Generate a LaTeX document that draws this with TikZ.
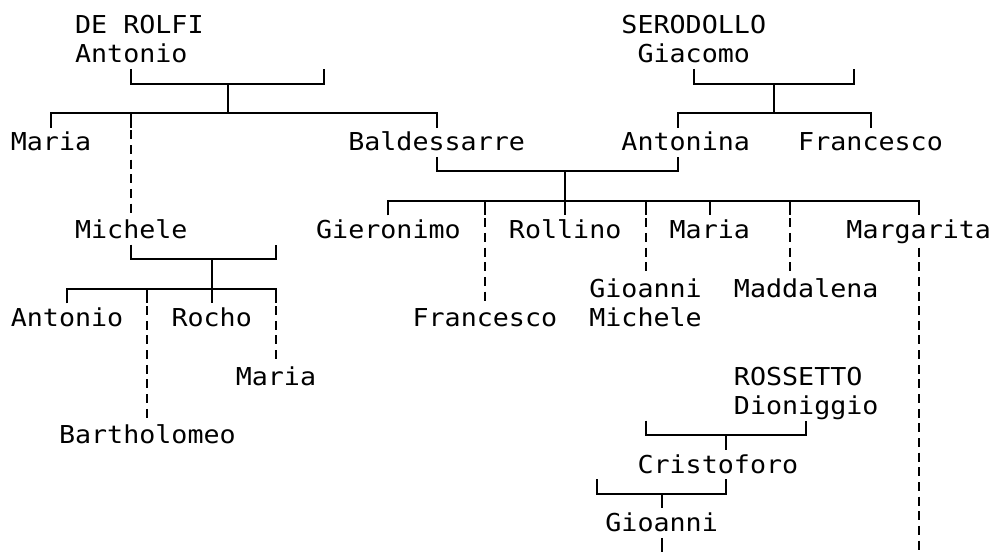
\documentclass[tikz,border=0pt]{standalone}
\usepackage{fontspec}
\setmonofont[FakeStretch=1.082]{DejaVu Sans Mono}
\newcommand\gp[3]{\coordinate (#1) at ({cx(#2)},{ry(#3)});}
\begin{document}
\begin{tikzpicture}[x=0.75pt,y=-0.75pt,
  declare function={cx(\c)=18.8+16.07*\c; ry(\r)=25+29.3*\r; tx(\c)=10.8+16.07*\c; by(\r)=33.5+29.3*\r;},
  person/.style={anchor=base west, inner sep=0pt, outer sep=0pt, font=\ttfamily\fontsize{18.5}{22}\selectfont},
  link/.style={line width=1.5pt},
  dlink/.style={line width=1.5pt, dash pattern=on 6.75pt off 4.24pt, dash phase=8.87pt}]
\fill[white] (0,0) rectangle (992,552);
\useasboundingbox (0,0) rectangle (992,552);
% ---- names ----
\node[person] (derolfi) at ({tx(4)},{by(0)}) {DE ROLFI};
\node[person] (antonioA) at ({tx(4)},{by(1)}) {Antonio};
\node[person] (serodollo) at ({tx(38)},{by(0)}) {SERODOLLO};
\node[person] (giacomo) at ({tx(39)},{by(1)}) {Giacomo};
\node[person] (mariaA) at ({tx(0)},{by(4)}) {Maria};
\node[person] (baldessarre) at ({tx(21)},{by(4)}) {Baldessarre};
\node[person] (antonina) at ({tx(38)},{by(4)}) {Antonina};
\node[person] (francescoA) at ({tx(49)},{by(4)}) {Francesco};
\node[person] (micheleA) at ({tx(4)},{by(7)}) {Michele};
\node[person] (gieronimo) at ({tx(19)},{by(7)}) {Gieronimo};
\node[person] (rollino) at ({tx(31)},{by(7)}) {Rollino};
\node[person] (mariaB) at ({tx(41)},{by(7)}) {Maria};
\node[person] (margarita) at ({tx(52)},{by(7)}) {Margarita};
\node[person] (gioanniA) at ({tx(36)},{by(9)}) {Gioanni};
\node[person] (maddalena) at ({tx(45)},{by(9)}) {Maddalena};
\node[person] (antonioB) at ({tx(0)},{by(10)}) {Antonio};
\node[person] (rocho) at ({tx(10)},{by(10)}) {Rocho};
\node[person] (francescoB) at ({tx(25)},{by(10)}) {Francesco};
\node[person] (micheleB) at ({tx(36)},{by(10)}) {Michele};
\node[person] (mariaC) at ({tx(14)},{by(12)}) {Maria};
\node[person] (rossetto) at ({tx(45)},{by(12)}) {ROSSETTO};
\node[person] (dioniggio) at ({tx(45)},{by(13)}) {Dioniggio};
\node[person] (bartholomeo) at ({tx(3)},{by(14)}) {Bartholomeo};
\node[person] (cristoforo) at ({tx(39)},{by(15)}) {Cristoforo};
\node[person] (gioanniB) at ({tx(37)},{by(17)}) {Gioanni};
% ---- DE ROLFI family ----
\gp{a1}{7}{1.5}\gp{a2}{7}{2}\gp{a3}{19}{2}\gp{a4}{19}{1.5}\gp{aj}{13}{2}\gp{ak}{13}{3}
\draw[link] (a1) -- (a2) -- (a3) -- (a4);
\draw[link] (aj) -- (ak);
\gp{b1}{2}{3.5}\gp{b2}{2}{3}\gp{b3}{26}{3}\gp{b4}{26}{3.5}
\draw[link] (b1) -- (b2) -- (b3) -- (b4);
\gp{c1}{7}{3}\gp{c2}{7}{3.5}\gp{c3}{7}{6.5}
\draw[link] (c1) -- (c2);
\draw[dlink] (c2) -- (c3);
% ---- SERODOLLO family ----
\gp{d1}{42}{1.5}\gp{d2}{42}{2}\gp{d3}{52}{2}\gp{d4}{52}{1.5}\gp{dj}{47}{2}\gp{dk}{47}{3}
\draw[link] (d1) -- (d2) -- (d3) -- (d4);
\draw[link] (dj) -- (dk);
\gp{e1}{41}{3.5}\gp{e2}{41}{3}\gp{e3}{53}{3}\gp{e4}{53}{3.5}
\draw[link] (e1) -- (e2) -- (e3) -- (e4);
% ---- Baldessarre + Antonina ----
\gp{f1}{26}{4.5}\gp{f2}{26}{5}\gp{f3}{41}{5}\gp{f4}{41}{4.5}\gp{fj}{34}{5}\gp{fk}{34}{6.5}
\draw[link] (f1) -- (f2) -- (f3) -- (f4);
\draw[link] (fj) -- (fk);
\gp{g1}{23}{6.5}\gp{g2}{23}{6}\gp{g3}{56}{6}\gp{g4}{56}{6.5}
\draw[link] (g1) -- (g2) -- (g3) -- (g4);
\gp{h1}{29}{6}\gp{h2}{29}{6.5}\gp{h3}{29}{9.5}
\draw[link] (h1) -- (h2); \draw[dlink] (h2) -- (h3);
\gp{i1}{39}{6}\gp{i2}{39}{6.5}\gp{i3}{39}{8.5}
\draw[link] (i1) -- (i2); \draw[dlink] (i2) -- (i3);
\gp{j1}{43}{6}\gp{j2}{43}{6.5}
\draw[link] (j1) -- (j2);
\gp{k1}{48}{6}\gp{k2}{48}{6.5}\gp{k3}{48}{8.5}
\draw[link] (k1) -- (k2); \draw[dlink] (k2) -- (k3);
\gp{l1}{56}{7.5}\gp{l2}{56}{18.1}
\draw[dlink] (l1) -- (l2);
% ---- Michele ----
\gp{m1}{7}{7.5}\gp{m2}{7}{8}\gp{m3}{16}{8}\gp{m4}{16}{7.5}\gp{mj}{12}{8}\gp{mk}{12}{9.5}
\draw[link] (m1) -- (m2) -- (m3) -- (m4);
\draw[link] (mj) -- (mk);
\gp{n1}{3}{9.5}\gp{n2}{3}{9}\gp{n3}{16}{9}\gp{n4}{16}{9.5}\gp{n5}{16}{11.5}
\draw[link] (n1) -- (n2) -- (n3) -- (n4);
\draw[dlink] (n4) -- (n5);
\gp{o1}{8}{9}\gp{o2}{8}{9.5}\gp{o3}{8}{13.5}
\draw[link] (o1) -- (o2); \draw[dlink] (o2) -- (o3);
% ---- ROSSETTO ----
\gp{p1}{39}{13.5}\gp{p2}{39}{14}\gp{p3}{49}{14}\gp{p4}{49}{13.5}\gp{pj}{44}{14}\gp{pk}{44}{14.5}
\draw[link] (p1) -- (p2) -- (p3) -- (p4);
\draw[link] (pj) -- (pk);
% ---- Cristoforo ----
\gp{q1}{36}{15.5}\gp{q2}{36}{16}\gp{q3}{44}{16}\gp{q4}{44}{15.5}\gp{qj}{40}{16}\gp{qk}{40}{16.5}
\draw[link] (q1) -- (q2) -- (q3) -- (q4);
\draw[link] (qj) -- (qk);
\gp{r1}{40}{17.5}\gp{r2}{40}{18.1}
\draw[link] (r1) -- (r2);
\end{tikzpicture}
\end{document}
